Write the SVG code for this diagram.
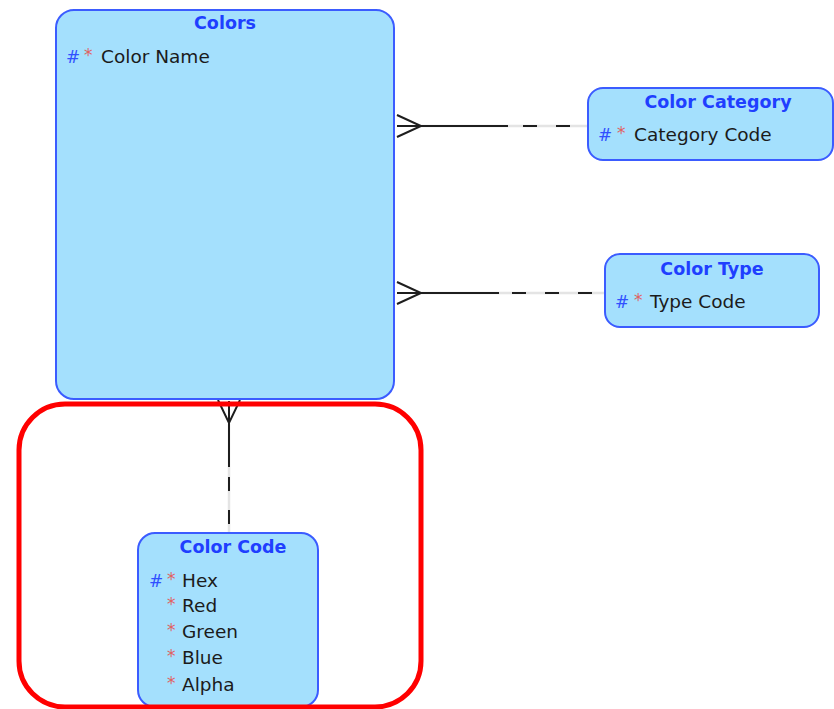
<svg xmlns="http://www.w3.org/2000/svg" width="834" height="709" viewBox="0 0 834 709">
  <style>
    .entity { fill: #a4e0fd; stroke: #3b5cff; stroke-width: 2; }
    .title { font-family: "DejaVu Sans", sans-serif; font-weight: bold; font-size: 17.5px; fill: #1f3fff; text-anchor: middle; }
    .attr { font-family: "DejaVu Sans", sans-serif; font-size: 18.5px; fill: #1b1b1b; }
    .pk { font-family: "DejaVu Sans", sans-serif; font-size: 17px; fill: #3050ff; }
    .req { font-family: "DejaVu Sans", sans-serif; font-size: 17px; fill: #e06262; }
    .solid { stroke: #1e1e1e; stroke-width: 2; fill: none; }
    .ghost { stroke: #e4e4e4; stroke-width: 2.5; fill: none; }
    .dash { stroke: #1e1e1e; stroke-width: 2; fill: none; stroke-dasharray: 14 19; }
    .focus { fill: none; stroke: #ff0000; stroke-width: 5; }
  </style>

  <!-- relationships -->
  <g id="connectors">
    <!-- Colors >- Color Category -->
    <line class="ghost" x1="420" y1="126" x2="588" y2="126"/>
    <line class="solid" x1="397" y1="126" x2="508" y2="126"/>
    <line class="dash" x1="523" y1="126" x2="588" y2="126"/>
    <path class="solid" d="M397 115 L421 126 L397 137"/>

    <!-- Colors >- Color Type -->
    <line class="ghost" x1="420" y1="293" x2="605" y2="293"/>
    <line class="solid" x1="397" y1="293" x2="499" y2="293"/>
    <line class="dash" x1="512" y1="293" x2="605" y2="293" stroke-dasharray="15 18"/>
    <path class="solid" d="M397 282 L421 293 L397 304"/>

    <!-- Colors >- Color Code -->
    <line class="ghost" x1="229" y1="424" x2="229" y2="533"/>
    <line class="solid" x1="229" y1="401" x2="229" y2="467"/>
    <line class="dash" x1="229" y1="477" x2="229" y2="533" stroke-dasharray="9 15"/>
    <path class="solid" d="M218 400 L229 423 L240 400"/>
  </g>

  <g id="colors">
    <rect class="entity" x="56" y="10" width="338" height="389" rx="18"/>
    <text class="title" x="225" y="29">Colors</text>
    <text class="pk" x="66" y="63">#</text>
    <text class="req" x="84" y="61">*</text>
    <text class="attr" x="101" y="63">Color Name</text>
  </g>

  <g id="color-category">
    <rect class="entity" x="588" y="88" width="245" height="72" rx="15"/>
    <text class="title" x="718" y="108">Color Category</text>
    <text class="pk" x="598" y="141">#</text>
    <text class="req" x="617" y="139">*</text>
    <text class="attr" x="634" y="141">Category Code</text>
  </g>

  <g id="color-type">
    <rect class="entity" x="605" y="254" width="214" height="73" rx="15"/>
    <text class="title" x="712" y="275">Color Type</text>
    <text class="pk" x="615" y="308">#</text>
    <text class="req" x="634" y="306">*</text>
    <text class="attr" x="650" y="308">Type Code</text>
  </g>

  <g id="color-code">
    <rect class="entity" x="138" y="533" width="180" height="174" rx="17"/>
    <text class="title" x="233" y="553">Color Code</text>
    <text class="pk" x="149" y="587">#</text>
    <text class="req" x="167" y="585">*</text>
    <text class="attr" x="182" y="587">Hex</text>
    <text class="req" x="167" y="610">*</text>
    <text class="attr" x="182" y="612">Red</text>
    <text class="req" x="167" y="636">*</text>
    <text class="attr" x="182" y="638">Green</text>
    <text class="req" x="167" y="662">*</text>
    <text class="attr" x="182" y="664">Blue</text>
    <text class="req" x="167" y="689">*</text>
    <text class="attr" x="182" y="691">Alpha</text>
  </g>

  <!-- highlight frame -->
  <rect id="highlight" class="focus" x="19" y="404" width="402" height="303" rx="46"/>
</svg>
